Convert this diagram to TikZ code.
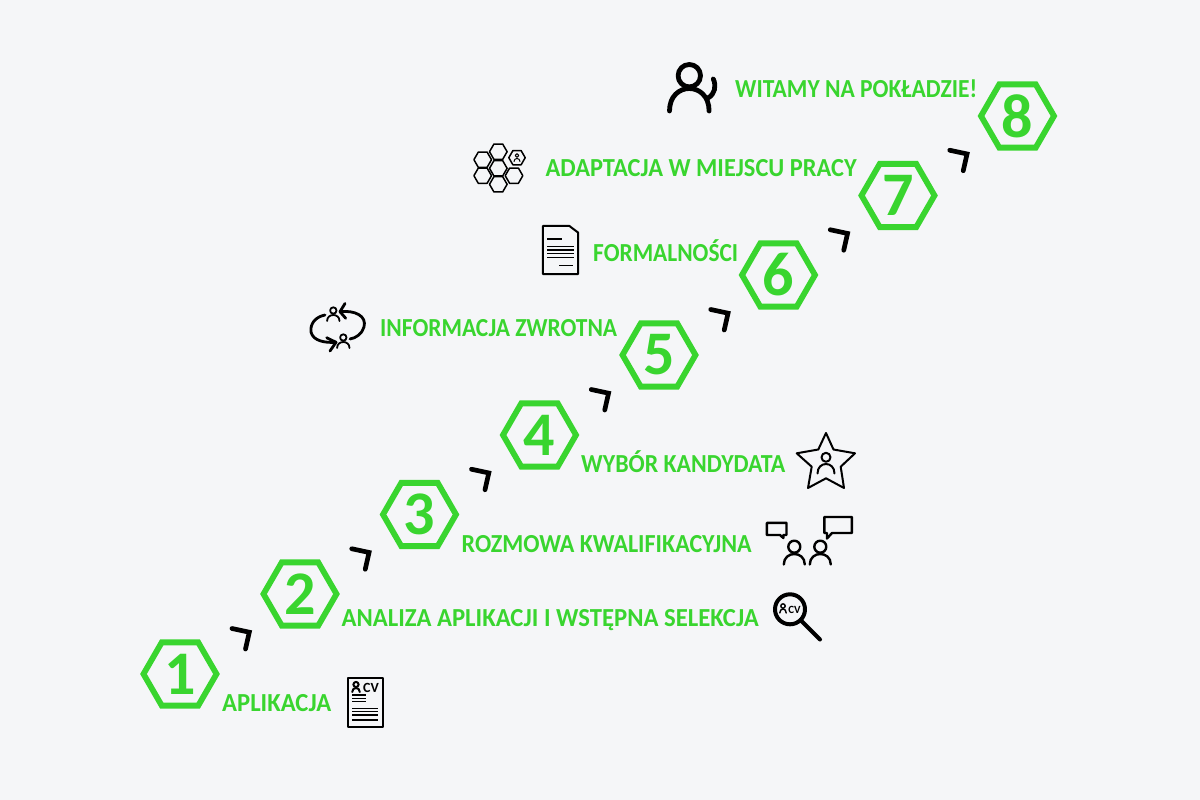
\documentclass[tikz,border=0pt]{standalone}
\usepackage{fontspec}
\usepackage{graphicx}
\setmainfont{Carlito}
\usetikzlibrary{calc}
\definecolor{bgc}{HTML}{F5F6F8}
\definecolor{grn}{HTML}{39D52F}
\newcommand{\hexpath}[3]{(#1-#3,#2) -- (#1-#3*.5,#2-#3*.866) -- (#1+#3*.5,#2-#3*.866) -- (#1+#3,#2) -- (#1+#3*.5,#2+#3*.866) -- (#1-#3*.5,#2+#3*.866) -- cycle}
% x, y of head, head radius, half width of body, y of body top, y of body bottom
\newcommand{\pers}[6]{%
  \draw (#1,#2) circle (#3);
  \draw[line cap=round] ({#1-#4},#6) .. controls ({#1-#4},{#6-(#6-#5)*4/3}) and ({#1+#4},{#6-(#6-#5)*4/3}) .. ({#1+#4},#6);}
\tikzset{
  x=1pt,y=-1pt,
  hexa/.style={draw=grn,line width=5.8pt,line join=miter,miter limit=10},
  num/.style={text=grn,font=\fontsize{62}{62}\selectfont\bfseries,inner sep=0pt},
  lab/.style={text=grn,font=\fontsize{26}{26}\selectfont\bfseries,inner sep=0pt,anchor=base west},
  chev/.style={draw=black,line width=4.7pt,line cap=round,line join=miter},
  ic/.style={draw=black,line width=2pt,line join=round},
  cvt/.style={text=black,inner sep=0pt,font=\fontsize{14}{14}\selectfont\bfseries},
}
\begin{document}
\begin{tikzpicture}
\useasboundingbox[fill=bgc] (0,0) rectangle (1200,800);
% hexagons and digits
\foreach \n/\x/\y in {1/180/674,2/300/594,3/419.5/514.5,4/539.5/435,5/659/355,6/778.5/275,7/898/195.5,8/1017.5/116}{
  \draw[hexa] \hexpath{\x}{\y}{36.5};
  \node[num] (h\n) at (\x,\y) {\n};
}
% chevrons between the hexagons
\foreach \a/\b in {1/2,2/3,3/4,4/5,5/6,6/7,7/8}{
  \coordinate (m\a) at ($(h\a)!.5!(h\b)$);
  \draw[chev] ($(m\a)+(-8,-5.5)$) -- ($(m\a)+(9.3,-1.8)$) -- ($(m\a)+(5.5,15)$);
}
% labels
\newcommand{\lbl}[5]{\node[lab] (#1) at (#2,#3) {\resizebox{#4pt}{\height}{#5}};}
\lbl{l1}{222}{711}{109}{APLIKACJA}
\lbl{l2}{341.5}{626}{417}{ANALIZA APLIKACJI I WSTĘPNA SELEKCJA}
\lbl{l3}{461.5}{552}{290}{ROZMOWA KWALIFIKACYJNA}
\lbl{l4}{581}{472}{204}{WYBÓR KANDYDATA}
\lbl{l5}{380}{336.5}{237}{INFORMACJA ZWROTNA}
\lbl{l6}{593}{261}{145}{FORMALNOŚCI}
\lbl{l7}{545.5}{176.5}{311}{ADAPTACJA W MIEJSCU PRACY}
\lbl{l8}{735}{97}{242}{WITAMY NA POKŁADZIE!}
% CV document
\begin{scope}[ic]
\draw (347.5,678) rectangle (382.7,726.5);
\pers{356}{684.5}{2.6}{3.8}{688}{692}
\foreach \y in {695,698.5,701.7}{\draw[line width=1.4pt] (352,\y) -- (366,\y);}
\foreach \y in {708.3,711.7,715,720}{\draw[line width=1.4pt] (352,\y) -- (378,\y);}
\end{scope}
\node[cvt] (cv1) at (371,687.5) {CV};
% magnifier
\begin{scope}[ic,line width=4pt]
\draw (790,609.3) circle (15);
\draw[line cap=round] (800.5,620) -- (820,639.5);
\end{scope}
\begin{scope}[ic,line width=1.4pt]
\pers{783}{606}{2.2}{3.2}{609}{613}
\end{scope}
\node[cvt,font=\fontsize{11}{11}\selectfont\bfseries] (cv2) at (794.5,610) {CV};
% speech bubbles and two people
\begin{scope}[ic,line width=2.4pt]
\draw (766.9,522.9) -- (786.5,522.9) -- (786.5,535) -- (783.3,535) -- (783.3,538) -- (780,535) -- (766.9,535) -- cycle;
\draw (824.3,517) -- (851.8,517) -- (851.8,533) -- (832,533) -- (827,538.5) -- (827,533) -- (824.3,533) -- cycle;
\pers{794.3}{546.7}{6}{10.5}{554}{564.5}
\pers{820.3}{546.7}{6}{10.5}{554}{564.5}
\end{scope}
% star
\begin{scope}[ic]
\draw (826,433) -- (833.5,449.5) -- (855,453.3) -- (840.7,466.7) -- (844,488) -- (826,478.3) -- (808,488) -- (811.7,466.7) -- (796.7,453.3) -- (818.3,449.5) -- cycle;
\pers{826}{457.3}{4.5}{8.5}{464}{473.5}
\end{scope}
% feedback cycle
\begin{scope}[ic,line width=2.8pt,line cap=round]
\draw (340,311.7) .. controls (355,310) and (367,316) .. (364,327) .. controls (362,334) and (356,338) .. (350,339);
\draw (345,303.5) -- (340,311.7) -- (345.7,318.3);
\draw (325,315) .. controls (315,317) and (310,324) .. (311,332) .. controls (313,341) and (325,343) .. (336,342.3);
\draw (326.7,337.7) -- (336,342.3) -- (330,351);
\end{scope}
\begin{scope}[ic,line width=1.8pt]
\pers{333.3}{310.5}{3.2}{6.2}{315}{321}
\pers{343.3}{337.5}{3.2}{6.2}{342}{348}
\end{scope}
% page
\begin{scope}[ic]
\draw (542.9,225.9) -- (569.3,225.9) -- (578,232.5) -- (578,274) -- (542.9,274) -- cycle;
\draw[line width=1.4pt] (547.3,239) -- (561.7,239);
\foreach \y in {246.7,250,253.3,257.7}{\draw[line width=1.4pt] (547.3,\y) -- (574,\y);}
\draw[line width=1.4pt] (559.3,265.7) -- (573.3,265.7);
\end{scope}
% honeycomb
\begin{scope}[ic,line width=1.5pt]
\foreach \x/\y in {498.3/151.7,482.7/159.7,498.3/168.3,482.7/175.7,514/175.7,498.3/184.3}{
  \draw \hexpath{\x}{\y}{8.8};
}
\draw \hexpath{517}{157.7}{8.2};
\begin{scope}[line width=1pt]
\pers{517}{155.5}{1.8}{3}{158.5}{161.5}
\end{scope}
\end{scope}
% large person
\begin{scope}[ic,line width=4.8pt]
\pers{689.3}{75.7}{11.2}{19.8}{88.5}{111}
\draw[line cap=round] (713.3,79) .. controls (716.5,86) and (715,94) .. (708,98);
\end{scope}
\end{tikzpicture}
\end{document}
